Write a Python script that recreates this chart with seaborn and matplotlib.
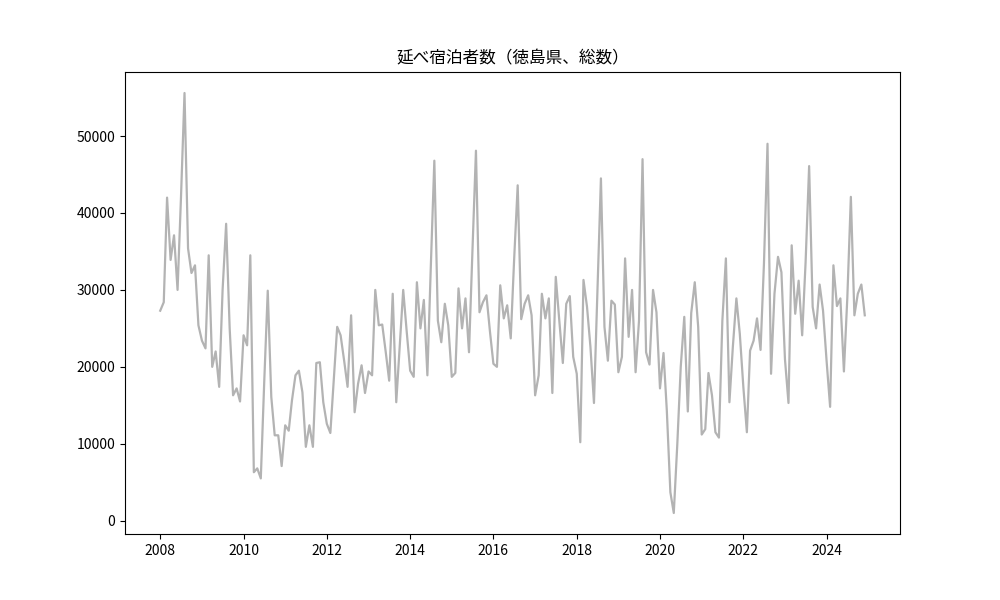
import numpy as np
import pandas as pd
import matplotlib
matplotlib.use("Agg")
import matplotlib.pyplot as plt
import matplotlib.dates as mdates
import seaborn as sns

plt.rcParams['font.family'] = ['Noto Sans CJK JP', 'DejaVu Sans']

# monthly values, Jan 2008 - Dec 2024
v2008 = [27300, 28400, 42000, 33900, 37100, 30000, 42000, 55600, 35400, 32200, 33200, 25400]
v2009 = [23400, 22400, 34500, 20000, 22000, 17400, 30000, 38600, 25000, 16300, 17200, 15500]
v2010 = [24100, 22800, 34500, 6300, 6800, 5500, 18000, 29900, 16100, 11100, 11100, 7100]
v2011 = [12400, 11700, 15600, 18900, 19500, 16700, 9600, 12400, 9600, 20500, 20600, 15400]
v2012 = [12600, 11400, 18000, 25200, 24100, 20800, 17400, 26700, 14100, 17800, 20200, 16600]
v2013 = [19400, 18900, 30000, 25400, 25500, 21900, 18200, 29500, 15400, 22600, 30000, 24700]
v2014 = [19500, 18700, 31000, 25000, 28700, 18900, 33000, 46800, 26000, 23200, 28200, 25400]
v2015 = [18700, 19200, 30200, 25000, 28900, 21900, 35000, 48100, 27100, 28400, 29300, 24700]
v2016 = [20400, 20000, 30600, 26300, 28000, 23700, 34000, 43600, 26200, 28200, 29300, 26700]
v2017 = [16300, 18900, 29500, 26300, 28900, 16600, 31700, 26000, 20500, 28200, 29200, 21300]
v2018 = [19100, 10200, 31300, 27800, 22600, 15300, 29500, 44500, 25200, 20800, 28600, 28100]
v2019 = [19300, 21300, 34100, 23900, 30000, 19300, 26000, 47000, 21900, 20300, 30000, 27100]
v2020 = [17200, 21800, 14300, 3700, 1000, 10000, 20000, 26500, 14200, 27000, 31000, 25200]
v2021 = [11200, 11900, 19200, 16300, 11500, 10800, 26000, 34100, 15400, 22600, 28900, 24300]
v2022 = [17400, 11500, 22100, 23400, 26300, 22200, 33500, 49000, 19100, 29500, 34300, 32300]
v2023 = [21000, 15300, 35800, 26900, 31200, 24100, 33600, 46100, 27800, 25000, 30700, 27300]
v2024 = [20800, 14800, 33200, 27900, 28900, 19400, 29000, 42100, 26700, 29500, 30700, 26700]

values = (v2008 + v2009 + v2010 + v2011 + v2012 + v2013 + v2014 + v2015 + v2016
          + v2017 + v2018 + v2019 + v2020 + v2021 + v2022 + v2023 + v2024)
dates = pd.date_range("2008-01-01", periods=len(values), freq="MS")
df = pd.DataFrame({"date": dates, "value": values})

fig, ax = plt.subplots(figsize=(10, 6), dpi=100)
sns.lineplot(data=df, x="date", y="value", color="#b3b3b3", linewidth=1.6, ax=ax)
ax.set_title("延べ宿泊者数（徳島県、総数）")
ax.set_xlabel("")
ax.set_ylabel("")
ax.xaxis.set_major_locator(mdates.YearLocator(2))
ax.xaxis.set_major_formatter(mdates.DateFormatter("%Y"))
ax.set_yticks([0, 10000, 20000, 30000, 40000, 50000])
ax.set_yticklabels(["0", "10000", "20000", "30000", "40000", "50000"])

plt.savefig("out.png", dpi=100)
